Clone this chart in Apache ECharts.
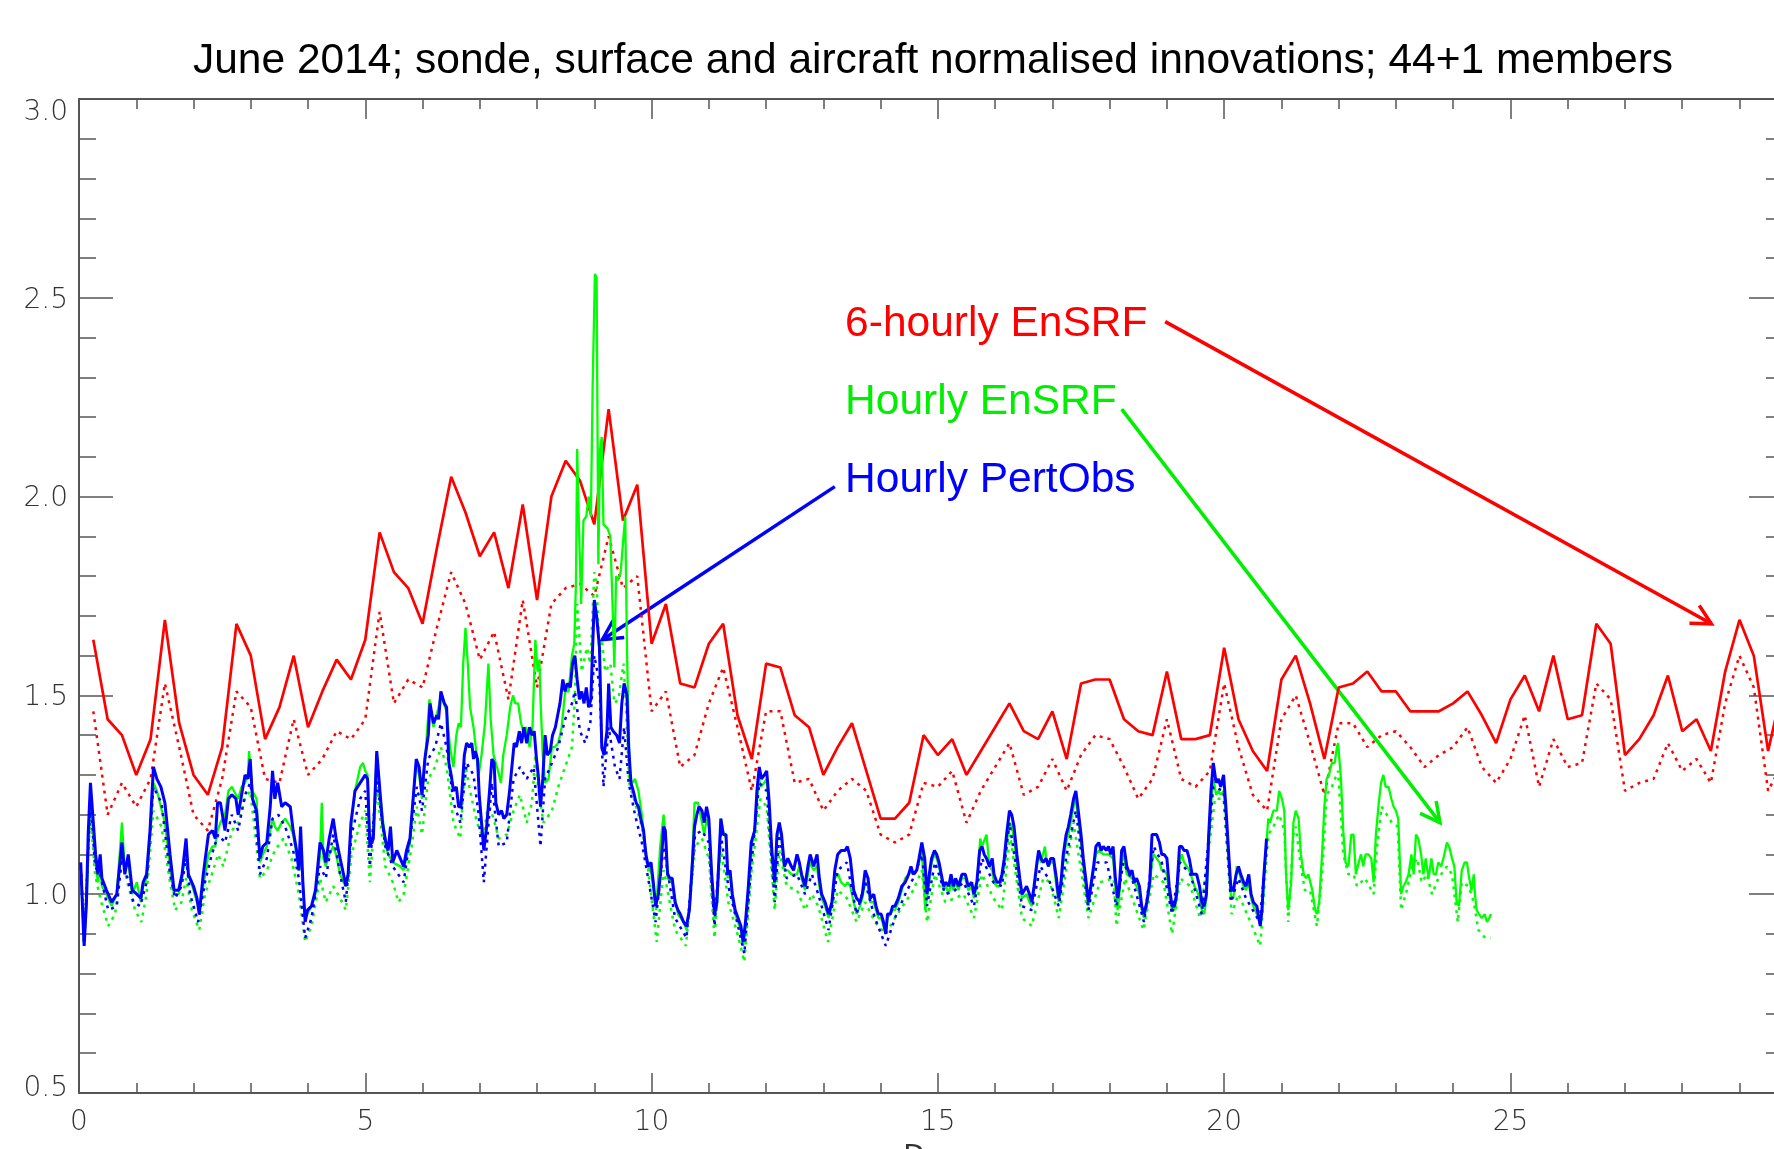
<!DOCTYPE html>
<html>
<head>
<meta charset="utf-8">
<script src="https://cdn.jsdelivr.net/npm/echarts@6/dist/echarts.min.js"></script>
<style>
html,body{margin:0;padding:0;background:#fff;}
#chart{width:1774px;height:1149px;}
</style>
</head>
<body>
<div id="chart"></div>
<script>
// ---------------- DATA ----------------
const titleText = 'June 2014; sonde, surface and aircraft normalised innovations; 44+1 members';
const xTickStep = 5;            // major x tick step (days)
const yTickStep = 0.5;          // major y tick step

// 6-hourly EnSRF (red), every 0.25 day from day 0.25 to 29.75
const sixHourlyStart = 0.25;
const sixHourlyStep = 0.25;
const redSolid = [1.64,1.44,1.40,1.30,1.39,1.69,1.43,1.30,1.25,1.37,1.68,1.60,1.39,1.47,1.60,1.42,1.51,1.59,1.54,1.64,
  1.91,1.81,1.77,1.68,1.87,2.05,1.96,1.85,1.91,1.77,1.98,1.74,2.00,2.09,2.04,1.93,2.22,1.94,2.03,1.63,
  1.73,1.53,1.52,1.63,1.68,1.45,1.34,1.58,1.57,1.45,1.42,1.30,1.37,1.43,1.31,1.19,1.19,1.23,1.40,1.35,
  1.39,1.30,1.36,1.42,1.48,1.41,1.39,1.46,1.34,1.53,1.54,1.54,1.44,1.41,1.40,1.56,1.39,1.39,1.40,1.62,
  1.44,1.36,1.31,1.54,1.60,1.48,1.34,1.52,1.53,1.56,1.51,1.51,1.46,1.46,1.46,1.48,1.51,1.45,1.38,1.49,
  1.55,1.46,1.60,1.44,1.45,1.68,1.63,1.35,1.39,1.45,1.55,1.41,1.44,1.36,1.56,1.69,1.60,1.36,1.52];
const redDotted = [1.46,1.20,1.28,1.22,1.29,1.53,1.37,1.20,1.16,1.29,1.51,1.47,1.29,1.28,1.44,1.30,1.34,1.41,1.39,1.44,
  1.71,1.48,1.54,1.52,1.67,1.81,1.73,1.59,1.66,1.49,1.74,1.52,1.73,1.77,1.78,1.75,1.90,1.77,1.80,1.46,
  1.51,1.32,1.35,1.48,1.57,1.42,1.26,1.46,1.46,1.28,1.29,1.21,1.26,1.29,1.26,1.15,1.13,1.15,1.28,1.27,
  1.31,1.18,1.26,1.32,1.38,1.25,1.27,1.34,1.26,1.35,1.40,1.39,1.32,1.24,1.29,1.44,1.29,1.27,1.31,1.53,
  1.37,1.25,1.21,1.44,1.50,1.38,1.25,1.43,1.43,1.37,1.40,1.41,1.37,1.32,1.35,1.37,1.42,1.32,1.28,1.34,
  1.45,1.27,1.39,1.32,1.33,1.53,1.49,1.26,1.28,1.29,1.38,1.31,1.34,1.28,1.48,1.60,1.52,1.26,1.33];

// Hourly PertObs (blue) [day, value]
const blueSolid = [[0.03,1.08],[0.08,0.90],[0.09,0.87],[0.13,0.98],[0.16,1.15],[0.20,1.28],[0.25,1.18],[0.29,1.10],[0.33,1.05],[0.37,1.10],[0.40,1.04],[0.48,1.01],[0.57,0.98],[0.66,1.00],[0.75,1.13],[0.80,1.05],[0.86,1.10],[0.93,1.01],[1.01,1.00],[1.08,0.99],[1.12,1.03],[1.18,1.05],[1.24,1.16],[1.30,1.32],[1.36,1.29],[1.43,1.27],[1.50,1.23],[1.59,1.10],[1.66,1.01],[1.74,1.01],[1.80,1.05],[1.87,1.14],[1.91,1.05],[2.00,1.02],[2.06,0.99],[2.10,0.95],[2.17,1.05],[2.26,1.15],[2.33,1.16],[2.38,1.14],[2.42,1.23],[2.47,1.23],[2.55,1.16],[2.61,1.24],[2.67,1.25],[2.74,1.24],[2.78,1.20],[2.84,1.25],[2.90,1.30],[2.95,1.29],[2.99,1.34],[3.03,1.24],[3.10,1.21],[3.16,1.09],[3.21,1.12],[3.28,1.13],[3.34,1.22],[3.38,1.31],[3.42,1.24],[3.47,1.28],[3.54,1.22],[3.60,1.23],[3.69,1.22],[3.74,1.16],[3.80,1.11],[3.84,1.06],[3.87,1.17],[3.91,1.03],[3.95,0.93],[3.99,0.96],[4.06,0.97],[4.13,1.01],[4.21,1.13],[4.27,1.11],[4.31,1.08],[4.37,1.14],[4.44,1.19],[4.49,1.14],[4.56,1.09],[4.62,1.05],[4.66,1.02],[4.70,1.05],[4.75,1.18],[4.82,1.26],[4.91,1.28],[5.00,1.30],[5.04,1.29],[5.08,1.12],[5.14,1.14],
  [5.20,1.36],[5.25,1.27],[5.30,1.18],[5.36,1.13],[5.40,1.11],[5.44,1.17],[5.48,1.08],[5.55,1.11],[5.61,1.09],[5.67,1.07],[5.72,1.11],[5.78,1.14],[5.83,1.23],[5.89,1.34],[5.94,1.32],[5.99,1.25],[6.04,1.34],[6.10,1.40],[6.13,1.48],[6.19,1.43],[6.25,1.45],[6.28,1.44],[6.32,1.51],[6.38,1.48],[6.42,1.47],[6.46,1.33],[6.50,1.30],[6.54,1.26],[6.59,1.27],[6.63,1.22],[6.67,1.22],[6.73,1.35],[6.77,1.38],[6.82,1.37],[6.86,1.38],[6.89,1.34],[6.92,1.36],[6.96,1.34],[6.99,1.25],[7.03,1.18],[7.07,1.11],[7.12,1.17],[7.17,1.26],[7.21,1.34],[7.25,1.33],[7.28,1.23],[7.33,1.20],[7.38,1.21],[7.42,1.19],[7.47,1.20],[7.52,1.26],[7.56,1.32],[7.60,1.38],[7.64,1.37],[7.69,1.41],[7.73,1.38],[7.77,1.42],[7.82,1.38],[7.87,1.42],[7.91,1.40],[7.95,1.41],[7.99,1.34],[8.02,1.30],[8.06,1.22],[8.10,1.29],[8.14,1.40],[8.18,1.35],[8.23,1.36],[8.27,1.40],[8.32,1.42],[8.36,1.45],[8.40,1.48],[8.45,1.54],[8.49,1.51],[8.53,1.53],[8.58,1.52],[8.62,1.58],[8.66,1.60],[8.70,1.54],[8.74,1.49],[8.78,1.51],[8.82,1.48],[8.86,1.52],[8.90,1.47],[8.94,1.49],[8.97,1.62],[9.00,1.74],[9.04,1.70],[9.09,1.62],[9.13,1.37],[9.17,1.35],[9.22,1.41],[9.25,1.53],[9.29,1.42],[9.33,1.41],[9.39,1.40],[9.44,1.38],[9.48,1.48],[9.52,1.53],[9.57,1.50],[9.60,1.37],[9.64,1.28],[9.68,1.26],[9.73,1.23],[9.77,1.22],[9.81,1.19],[9.86,1.16],[9.90,1.10],[9.94,1.07],[9.99,1.08],[10.03,1.03],[10.07,0.97],[10.12,1.00],[10.16,1.06],[10.21,1.17],[10.24,1.16],
  [10.28,1.05],[10.32,1.04],[10.36,1.04],[10.41,0.98],[10.46,0.96],[10.50,0.95],[10.56,0.93],[10.61,0.92],[10.66,0.96],[10.70,1.05],[10.75,1.17],[10.79,1.20],[10.83,1.22],[10.88,1.21],[10.92,1.18],[10.96,1.22],[11.00,1.19],[11.05,1.05],[11.10,0.95],[11.14,0.98],[11.18,1.10],[11.21,1.19],[11.25,1.15],[11.30,1.15],[11.33,1.05],[11.37,1.06],[11.41,1.00],[11.46,0.96],[11.51,0.94],[11.56,0.92],[11.60,0.88],[11.64,0.93],[11.69,1.02],[11.74,1.13],[11.80,1.16],[11.84,1.26],[11.88,1.32],[11.92,1.29],[11.97,1.30],[12.01,1.31],[12.05,1.24],[12.10,1.11],[12.15,1.03],[12.19,1.15],[12.23,1.18],[12.27,1.15],[12.32,1.07],[12.38,1.09],[12.44,1.07],[12.48,1.06],[12.54,1.10],[12.58,1.08],[12.62,1.05],[12.68,1.02],[12.73,1.07],[12.77,1.10],[12.83,1.07],[12.89,1.10],[12.93,1.04],[12.97,1.00],[13.03,0.98],[13.09,0.95],[13.15,0.98],[13.20,1.06],[13.25,1.10],[13.31,1.11],[13.38,1.11],[13.42,1.12],[13.47,1.09],[13.53,1.01],[13.58,0.99],[13.64,0.98],[13.68,1.00],[13.73,1.06],[13.78,1.04],[13.82,0.99],[13.88,1.00],[13.92,0.97],[13.96,0.95],[14.01,0.95],[14.05,0.93],[14.09,0.90],[14.12,0.95],[14.17,0.95],[14.21,0.97],[14.25,0.97],[14.31,0.99],[14.37,1.02],[14.43,1.03],[14.49,1.05],[14.53,1.07],[14.57,1.05],[14.63,1.06],[14.67,1.09],[14.72,1.13],[14.77,1.09],[14.81,1.00],[14.85,1.05],[14.89,1.09],[14.94,1.11],[14.98,1.10],[15.02,1.08],[15.06,1.05],[15.10,1.02],[15.14,1.03],[15.19,1.02],[15.23,1.05],[15.27,1.02],[15.31,1.04],[15.36,1.02],[15.42,1.05],[15.48,1.05],
  [15.53,1.02],[15.59,1.03],[15.63,1.00],[15.68,1.03],[15.73,1.11],[15.77,1.12],[15.81,1.10],[15.85,1.09],[15.90,1.07],[15.95,1.09],[15.98,1.05],[16.03,1.03],[16.08,1.03],[16.12,1.05],[16.16,1.09],[16.20,1.15],[16.25,1.21],[16.29,1.20],[16.33,1.17],[16.38,1.10],[16.43,1.04],[16.47,1.00],[16.51,1.01],[16.55,1.02],[16.60,1.00],[16.64,0.98],[16.68,1.02],[16.73,1.08],[16.76,1.11],[16.80,1.09],[16.84,1.08],[16.89,1.09],[16.93,1.07],[16.97,1.09],[17.02,1.09],[17.07,1.04],[17.11,0.99],[17.15,1.03],[17.19,1.10],[17.24,1.15],[17.28,1.17],[17.32,1.20],[17.37,1.24],[17.41,1.26],[17.46,1.20],[17.50,1.15],[17.54,1.09],[17.59,1.03],[17.63,0.98],[17.67,1.02],[17.72,1.07],[17.76,1.12],[17.81,1.13],[17.85,1.11],[17.89,1.12],[17.94,1.11],[17.98,1.12],[18.02,1.10],[18.06,1.12],[18.10,1.04],[18.14,0.99],[18.17,1.02],[18.21,1.11],[18.25,1.12],[18.30,1.07],[18.35,1.05],[18.39,1.06],[18.43,1.03],[18.47,1.04],[18.52,1.02],[18.56,0.97],[18.60,0.95],[18.65,0.98],[18.70,1.03],[18.74,1.15],[18.78,1.15],[18.82,1.15],[18.87,1.13],[18.91,1.10],[18.95,1.10],[19.00,1.09],[19.04,1.02],[19.09,0.97],[19.13,0.97],[19.17,1.00],[19.22,1.12],[19.26,1.12],[19.30,1.11],[19.35,1.11],[19.39,1.09],[19.44,1.05],[19.48,1.05],[19.52,1.05],[19.57,1.02],[19.61,0.98],[19.65,0.97],[19.69,1.00],[19.73,1.15],[19.77,1.26],[19.81,1.33],[19.86,1.28],[19.90,1.29],[19.94,1.27],[19.99,1.30],[20.03,1.22],[20.08,1.10],[20.12,1.01],[20.16,1.01],[20.21,1.05],[20.25,1.07],[20.29,1.05],[20.34,1.03],[20.38,1.02],[20.43,1.05],[20.47,1.00],[20.51,0.98],[20.57,0.97],[20.63,0.92],[20.66,0.96],[20.69,1.04],[20.74,1.14]];

const blueDotted = [[0.04,1.05],[0.09,0.88],[0.20,1.24],[0.28,1.07],[0.37,1.05],[0.51,0.96],[0.66,0.97],[0.75,1.09],[0.83,1.05],[0.95,0.98],[1.07,0.97],[1.18,1.03],[1.30,1.27],[1.44,1.23],[1.59,1.05],[1.68,0.99],[1.79,1.02],[1.87,1.09],[1.94,1.00],[2.08,0.93],[2.20,1.03],[2.32,1.10],[2.43,1.15],[2.55,1.13],[2.67,1.20],[2.78,1.16],[2.90,1.25],[2.99,1.28],[3.07,1.21],[3.16,1.05],[3.28,1.09],[3.38,1.19],[3.48,1.20],[3.60,1.17],[3.74,1.11],[3.84,1.04],[3.95,0.89],[4.06,0.94],[4.21,1.07],[4.31,1.04],[4.44,1.15],[4.56,1.05],[4.66,0.98],[4.76,1.15],[4.91,1.24],[5.00,1.26],[5.08,1.07],[5.20,1.29],[5.35,1.12],[5.48,1.07],[5.67,1.03],[5.81,1.17],[5.90,1.27],[5.99,1.21],[6.10,1.34],[6.22,1.37],[6.32,1.43],[6.42,1.37],[6.54,1.23],[6.66,1.18],[6.77,1.33],[6.89,1.30],[6.98,1.20],[7.07,1.03],[7.21,1.28],[7.33,1.12],[7.47,1.13],[7.59,1.29],[7.70,1.32],[7.82,1.29],[7.94,1.32],[8.06,1.12],[8.14,1.29],[8.26,1.33],[8.37,1.37],[8.49,1.44],[8.61,1.48],[8.66,1.51],[8.75,1.41],[8.84,1.38],[8.93,1.43],[9.00,1.60],[9.09,1.53],[9.16,1.27],[9.25,1.42],[9.36,1.32],[9.44,1.29],[9.52,1.42],[9.60,1.28],[9.71,1.20],[9.83,1.13],[9.94,1.04],[10.07,0.93],[10.21,1.12],[10.41,0.94],[10.61,0.89],[10.76,1.15],[10.88,1.16],[11.00,1.13],[11.10,0.92],[11.21,1.15],[11.34,1.02],[11.51,0.92],[11.62,0.85],[11.74,1.07],[11.88,1.28],[12.01,1.26],[12.15,0.98],[12.23,1.15],[12.36,1.04],[12.54,1.05],[12.68,1.00],[12.80,1.05],[12.91,1.00],[13.09,0.91],[13.25,1.06],[13.41,1.08],[13.58,0.95],[13.73,1.03],[13.90,0.94],[14.09,0.87],[14.25,0.94],[14.43,1.00],[14.57,1.04],[14.72,1.10],[14.81,0.97],[14.95,1.08],[15.13,1.00],[15.30,1.01],[15.45,1.03],[15.63,0.97],[15.77,1.09],[15.97,1.03],[16.12,1.02],[16.25,1.18],[16.47,0.97],[16.64,0.96],[16.79,1.07],[16.93,1.04],[17.11,0.97],[17.25,1.10],[17.41,1.21],[17.63,0.96],[17.78,1.08],[17.95,1.08],[18.12,0.97],[18.24,1.08],[18.41,1.03],[18.60,0.93],[18.77,1.12],[18.91,1.08],[19.09,0.95],[19.23,1.08],[19.41,1.05],[19.61,0.95],[19.81,1.27],[19.99,1.26],[20.12,0.98],[20.25,1.04],[20.38,0.99],[20.62,0.93],[20.74,1.12]];

// Hourly EnSRF (green) [day, value]
const greenSolid = [[0.03,1.06],[0.09,0.88],[0.13,0.97],[0.20,1.26],[0.25,1.15],[0.29,1.08],[0.33,1.03],[0.37,1.07],[0.40,1.02],[0.48,1.00],[0.57,0.97],[0.66,1.00],[0.75,1.18],[0.80,1.06],[0.86,1.08],[0.93,1.00],[1.01,1.03],[1.08,0.98],[1.12,1.02],[1.18,1.04],[1.24,1.14],[1.30,1.28],[1.36,1.26],[1.43,1.22],[1.50,1.18],[1.59,1.07],[1.66,1.00],[1.74,1.00],[1.80,1.04],[1.87,1.12],[1.91,1.05],[2.00,1.01],[2.06,0.98],[2.10,0.96],[2.17,1.02],[2.26,1.10],[2.33,1.12],[2.38,1.12],[2.42,1.16],[2.47,1.18],[2.55,1.20],[2.61,1.26],[2.67,1.27],[2.74,1.25],[2.78,1.24],[2.84,1.27],[2.90,1.28],[2.95,1.30],[2.97,1.36],[3.03,1.26],[3.10,1.24],[3.16,1.08],[3.21,1.10],[3.28,1.12],[3.34,1.16],[3.38,1.19],[3.42,1.17],[3.47,1.16],[3.54,1.18],[3.60,1.19],[3.69,1.17],[3.74,1.15],[3.80,1.10],[3.84,1.06],[3.87,1.12],[3.91,1.02],[3.95,0.94],[3.99,0.95],[4.06,0.97],[4.13,1.00],[4.21,1.10],[4.24,1.23],[4.27,1.09],[4.31,1.07],[4.37,1.10],[4.44,1.12],[4.49,1.10],[4.56,1.05],[4.62,1.03],[4.66,1.02],[4.70,1.04],[4.75,1.17],[4.82,1.26],[4.91,1.32],[4.96,1.33],[5.00,1.31],[5.04,1.30],[5.08,1.12],[5.14,1.16],
  [5.20,1.35],[5.25,1.26],[5.36,1.12],[5.40,1.10],[5.48,1.08],[5.61,1.07],[5.67,1.06],[5.78,1.13],[5.83,1.23],[5.89,1.33],[5.94,1.30],[5.99,1.24],[6.04,1.33],[6.12,1.49],[6.19,1.42],[6.28,1.47],[6.32,1.50],[6.42,1.46],[6.48,1.37],[6.54,1.32],[6.59,1.40],[6.63,1.43],[6.67,1.42],[6.71,1.58],[6.75,1.67],[6.79,1.58],[6.83,1.47],[6.89,1.42],[6.93,1.37],[6.98,1.30],[7.03,1.35],[7.09,1.43],[7.15,1.58],[7.19,1.44],[7.24,1.35],[7.30,1.32],[7.37,1.28],[7.41,1.35],[7.47,1.40],[7.53,1.47],[7.58,1.50],[7.62,1.48],[7.67,1.48],[7.72,1.43],[7.76,1.41],[7.81,1.42],[7.87,1.37],[7.92,1.42],[7.97,1.64],[8.01,1.56],[8.04,1.59],[8.06,1.49],[8.10,1.35],[8.14,1.28],[8.20,1.29],[8.26,1.37],[8.31,1.37],[8.37,1.38],[8.43,1.42],[8.49,1.51],[8.55,1.51],[8.61,1.60],[8.65,1.63],[8.68,1.79],[8.70,2.12],[8.73,1.93],[8.77,1.73],[8.81,1.94],[8.86,1.95],[8.90,2.00],[8.94,1.95],[8.97,2.27],[9.01,2.56],[9.04,2.55],[9.07,1.83],[9.10,2.12],[9.13,2.15],[9.16,1.93],[9.19,1.93],[9.23,1.92],[9.28,1.90],[9.32,1.72],[9.35,1.57],[9.38,1.80],[9.42,1.79],[9.46,1.81],[9.51,1.90],[9.54,1.95],[9.57,1.62],[9.60,1.41],[9.62,1.29],[9.67,1.28],[9.71,1.29],[9.77,1.26],[9.83,1.20],[9.89,1.12],[9.94,1.07],[10.00,1.05],[10.08,0.96],[10.15,1.12],[10.21,1.20],[10.25,1.14],
  [10.28,1.04],[10.36,1.03],[10.46,0.95],[10.56,0.93],[10.61,0.91],[10.66,0.96],[10.70,1.05],[10.75,1.23],[10.81,1.23],[10.88,1.18],[10.92,1.15],[10.96,1.19],[11.00,1.17],[11.05,1.04],[11.10,0.94],[11.14,0.97],[11.18,1.08],[11.21,1.19],[11.25,1.16],[11.30,1.14],[11.33,1.04],[11.37,1.06],[11.41,0.99],[11.46,0.95],[11.51,0.93],[11.56,0.91],[11.60,0.87],[11.64,0.92],[11.69,1.01],[11.74,1.12],[11.80,1.16],[11.84,1.23],[11.87,1.30],[11.90,1.27],[11.97,1.28],[12.01,1.29],[12.05,1.22],[12.10,1.10],[12.15,1.02],[12.19,1.14],[12.23,1.17],[12.27,1.14],[12.32,1.06],[12.38,1.06],[12.44,1.05],[12.48,1.05],[12.54,1.05],[12.58,1.07],[12.62,1.04],[12.68,1.01],[12.73,1.05],[12.77,1.08],[12.83,1.06],[12.89,1.07],[12.93,1.02],[12.97,0.99],[13.03,0.97],[13.09,0.94],[13.15,0.97],[13.20,1.04],[13.26,1.05],[13.31,1.03],[13.38,1.02],[13.42,1.03],[13.47,1.02],[13.53,0.98],[13.58,0.95],[13.64,0.97],[13.68,0.99],[13.73,1.03],[13.78,1.02],[13.82,0.98],[13.88,0.98],[13.92,0.96],[13.96,0.94],[14.01,0.94],[14.05,0.92],[14.09,0.90],[14.12,0.94],[14.17,0.95],[14.21,0.96],[14.25,0.96],[14.31,0.98],[14.37,1.01],[14.43,1.04],[14.49,1.05],[14.53,1.06],[14.57,1.05],[14.63,1.06],[14.67,1.08],[14.72,1.11],[14.78,0.96],[14.85,1.03],[14.89,1.08],[14.94,1.10],[14.98,1.09],[15.02,1.07],[15.06,1.04],[15.10,1.01],[15.14,1.02],[15.19,1.00],[15.23,1.03],[15.27,1.01],[15.31,1.03],[15.36,1.01],[15.42,1.04],[15.48,1.04],
  [15.53,1.01],[15.59,1.02],[15.63,0.99],[15.68,1.02],[15.74,1.14],[15.77,1.12],[15.85,1.15],[15.90,1.07],[15.95,1.06],[15.98,1.03],[16.03,1.02],[16.08,1.02],[16.12,1.04],[16.16,1.08],[16.20,1.13],[16.26,1.18],[16.29,1.17],[16.33,1.14],[16.38,1.08],[16.43,1.03],[16.47,0.99],[16.55,1.00],[16.60,0.98],[16.64,0.97],[16.68,1.01],[16.73,1.07],[16.76,1.10],[16.80,1.08],[16.87,1.12],[16.89,1.09],[16.93,1.07],[16.97,1.08],[17.02,1.08],[17.07,1.02],[17.11,0.98],[17.15,1.02],[17.19,1.08],[17.24,1.13],[17.28,1.15],[17.32,1.18],[17.37,1.22],[17.41,1.24],[17.46,1.18],[17.50,1.13],[17.54,1.07],[17.59,1.01],[17.63,0.97],[17.67,1.01],[17.72,1.06],[17.76,1.10],[17.81,1.11],[17.89,1.10],[17.98,1.10],[18.06,1.09],[18.10,1.02],[18.14,0.96],[18.17,1.00],[18.21,1.08],[18.25,1.10],[18.30,1.05],[18.39,1.04],[18.47,1.02],[18.52,1.00],[18.56,0.96],[18.60,0.94],[18.65,0.97],[18.70,1.02],[18.74,1.08],[18.77,1.10],[18.82,1.09],[18.87,1.08],[18.91,1.06],[18.95,1.06],[19.00,1.05],[19.04,1.00],[19.09,0.96],[19.13,0.96],[19.17,0.99],[19.22,1.08],[19.26,1.10],[19.30,1.08],[19.35,1.07],[19.39,1.06],[19.44,1.04],[19.48,1.02],[19.52,1.01],[19.57,0.99],[19.61,0.96],[19.65,0.95],[19.69,0.99],[19.73,1.12],[19.77,1.22],[19.81,1.29],[19.86,1.25],[19.90,1.26],[19.94,1.25],[19.99,1.26],[20.03,1.20],[20.08,1.08],[20.12,0.99],[20.16,0.99],[20.22,1.07],[20.25,1.06],[20.29,1.04],[20.34,1.02],[20.38,1.01],[20.43,1.03],[20.47,0.99],[20.51,0.97],[20.57,0.95],[20.62,0.93],[20.66,0.95],[20.70,1.05],[20.74,1.13],
  [20.77,1.19],[20.80,1.18],[20.86,1.21],[20.92,1.21],[20.96,1.26],[21.01,1.24],[21.05,1.21],[21.08,1.05],[21.12,0.96],[21.17,1.03],[21.21,1.18],[21.25,1.21],[21.30,1.19],[21.34,1.10],[21.39,1.05],[21.43,1.04],[21.47,1.05],[21.50,1.05],[21.54,1.01],[21.59,0.96],[21.62,0.95],[21.66,0.98],[21.71,1.10],[21.75,1.22],[21.79,1.29],[21.83,1.30],[21.88,1.33],[21.93,1.33],[21.97,1.37],[21.99,1.38],[22.04,1.29],[22.08,1.16],[22.12,1.08],[22.17,1.07],[22.22,1.15],[22.26,1.15],[22.30,1.05],[22.35,1.08],[22.39,1.10],[22.43,1.07],[22.47,1.10],[22.52,1.10],[22.57,1.09],[22.61,1.03],[22.65,1.15],[22.70,1.23],[22.74,1.28],[22.78,1.30],[22.82,1.27],[22.87,1.27],[22.92,1.24],[22.96,1.22],[23.00,1.21],[23.04,1.19],[23.09,1.00],[23.13,1.02],[23.17,1.03],[23.22,1.05],[23.27,1.10],[23.31,1.05],[23.35,1.15],[23.39,1.14],[23.44,1.10],[23.48,1.05],[23.52,1.09],[23.57,1.04],[23.62,1.09],[23.66,1.05],[23.70,1.05],[23.74,1.08],[23.79,1.07],[23.83,1.09],[23.89,1.13],[23.93,1.12],[23.98,1.09],[24.02,1.07],[24.06,0.98],[24.10,0.97],[24.15,1.06],[24.20,1.08],[24.24,1.08],[24.28,1.04],[24.32,1.01],[24.36,1.05],[24.38,1.00],[24.41,0.96],[24.45,0.95],[24.50,0.94],[24.55,0.95],[24.59,0.93],[24.63,0.94],[24.66,0.95]];

const greenDotted = [[0.08,0.88],[0.20,1.20],[0.28,1.05],[0.37,0.99],[0.51,0.92],[0.63,0.95],[0.75,1.09],[0.86,1.02],[0.98,0.96],[1.09,0.93],[1.18,1.00],[1.30,1.21],[1.44,1.17],[1.59,1.03],[1.68,0.96],[1.79,0.98],[1.87,1.04],[1.97,0.96],[2.10,0.91],[2.20,1.00],[2.32,1.05],[2.43,1.10],[2.52,1.07],[2.67,1.16],[2.78,1.18],[2.90,1.24],[2.99,1.26],[3.07,1.16],[3.16,1.04],[3.28,1.06],[3.42,1.11],[3.57,1.14],[3.71,1.09],[3.84,1.00],[3.95,0.88],[4.06,0.92],[4.21,1.04],[4.31,0.98],[4.44,1.02],[4.56,0.99],[4.66,0.96],[4.76,1.10],[4.91,1.18],[5.00,1.21],[5.08,1.03],[5.20,1.27],[5.35,1.07],[5.48,1.03],[5.58,0.98],[5.67,1.00],[5.81,1.12],[5.90,1.22],[5.99,1.15],[6.10,1.29],[6.22,1.32],[6.32,1.37],[6.42,1.32],[6.54,1.18],[6.66,1.14],[6.74,1.33],[6.83,1.26],[6.95,1.18],[7.06,1.14],[7.15,1.23],[7.24,1.19],[7.33,1.14],[7.47,1.15],[7.59,1.21],[7.70,1.25],[7.82,1.18],[7.91,1.23],[7.97,1.35],[8.02,1.27],[8.11,1.18],[8.26,1.21],[8.37,1.27],[8.49,1.32],[8.61,1.37],[8.66,1.49],[8.70,1.73],[8.78,1.56],[8.87,1.62],[8.93,1.58],[9.00,1.81],[9.04,1.78],[9.09,1.60],[9.13,1.64],[9.19,1.56],[9.28,1.58],[9.35,1.48],[9.42,1.49],[9.51,1.58],[9.55,1.48],[9.61,1.28],[9.71,1.23],[9.83,1.17],[9.94,1.06],[10.09,0.88],[10.21,1.06],[10.41,0.91],[10.60,0.87],[10.76,1.12],[10.88,1.14],[11.00,1.09],[11.10,0.89],[11.21,1.12],[11.34,0.98],[11.52,0.89],[11.62,0.83],[11.74,1.05],[11.90,1.24],[12.01,1.22],[12.15,0.96],[12.23,1.11],[12.36,1.02],[12.54,1.01],[12.68,0.96],[12.80,1.00],[12.91,0.97],[13.08,0.88],[13.25,1.01],[13.41,0.99],[13.58,0.93],[13.73,0.98],[13.90,0.93],[14.09,0.90],[14.25,0.94],[14.43,0.98],[14.57,1.01],[14.72,1.06],[14.81,0.93],[14.95,1.05],[15.13,0.98],[15.30,0.99],[15.45,1.00],[15.63,0.94],[15.77,1.05],[15.97,0.99],[16.12,0.96],[16.26,1.15],[16.47,0.94],[16.64,0.92],[16.84,1.04],[16.96,1.03],[17.11,0.94],[17.37,1.18],[17.63,0.94],[17.83,1.03],[18.07,1.04],[18.12,0.92],[18.27,1.04],[18.59,0.91],[18.77,1.05],[18.94,1.03],[19.09,0.90],[19.23,1.04],[19.41,1.02],[19.58,0.94],[19.84,1.24],[19.99,1.24],[20.13,0.95],[20.25,1.00],[20.46,0.93],[20.63,0.87],[20.77,1.15],[20.86,1.17],[20.96,1.20],[21.05,1.16],[21.12,0.93],[21.21,1.15],[21.25,1.17],[21.34,1.07],[21.41,1.01],[21.50,1.01],[21.62,0.92],[21.71,1.05],[21.79,1.25],[21.88,1.27],[21.99,1.31],[22.08,1.10],[22.17,1.05],[22.26,1.05],[22.32,1.02],[22.46,1.04],[22.61,1.00],[22.67,1.12],[22.75,1.22],[22.84,1.20],[22.93,1.18],[23.03,1.17],[23.09,0.96],[23.19,1.01],[23.28,1.07],[23.37,1.09],[23.45,1.03],[23.54,1.05],[23.63,1.00],[23.74,1.04],[23.89,1.07],[23.98,1.05],[24.08,0.93],[24.15,1.03],[24.27,1.02],[24.36,0.98],[24.44,0.91],[24.56,0.89],[24.65,0.89]];

// Annotations (data coordinates)
const labels = [
  {text: '6-hourly EnSRF', color: '#ff0000', at: [13.38, 2.433]},
  {text: 'Hourly EnSRF',   color: '#00ee00', at: [13.38, 2.237]},
  {text: 'Hourly PertObs', color: '#0000ff', at: [13.38, 2.041]}
];
const arrows = [
  {color: '#ff0000', from: [18.97, 2.44], to: [28.51, 1.68]},
  {color: '#00ee00', from: [18.21, 2.22], to: [23.77, 1.18]},
  {color: '#0000ff', from: [13.20, 2.025], to: [9.14, 1.64]}
];

// ---------------- CHART ----------------
const sixHourly = (vals) => vals.map((v, i) => [sixHourlyStart + i * sixHourlyStep, v]);

const chart = echarts.init(document.getElementById('chart'), null, {renderer: 'canvas'});
const axisColor = '#555';
const tickFont = {fontFamily: 'DejaVu Sans', fontSize: 28, color: '#333', fontWeight: 200};
const X_MIN = 0, X_MAX = 29.76, Y_MIN = 0.5, Y_MAX = 3.0;

function xAx(pos, interval, len, showLine, showLabel, extra) {
  return Object.assign({
    type: 'value', position: pos, min: X_MIN, max: X_MAX, interval: interval,
    axisLine: {show: showLine, onZero: false, lineStyle: {color: axisColor, width: 2}},
    axisTick: {show: true, inside: true, length: len, lineStyle: {color: axisColor, width: 1.5}},
    axisLabel: {show: showLabel, margin: 16, ...tickFont,
      formatter: (v) => (Math.abs(v / xTickStep - Math.round(v / xTickStep)) < 1e-6 ? String(Math.round(v)) : '')},
    splitLine: {show: false}
  }, extra || {});
}
const richBase = {fontFamily: 'DejaVu Sans', fontSize: 28, color: '#333', fontWeight: 200};
function yAx(pos, showLabel) {
  return {
    type: 'value', position: pos, min: Y_MIN, max: Y_MAX, interval: yTickStep,
    axisLine: {show: true, onZero: false, lineStyle: {color: axisColor, width: 2}},
    axisTick: {show: true, inside: true, length: 34, lineStyle: {color: axisColor, width: 1.5}},
    minorTick: {show: true, splitNumber: 5, length: 17, lineStyle: {color: axisColor, width: 1.5}},
    axisLabel: {show: showLabel, margin: 11, ...tickFont,
      formatter: (v) => {
        const s = v.toFixed(1);
        if (Math.abs(v - Y_MAX) < 1e-9) return '{t|' + s + '}';
        if (Math.abs(v - Y_MIN) < 1e-9) return '{b|' + s + '}';
        return '{n|' + s + '}';
      },
      rich: {
        t: Object.assign({padding: [28, 0, 0, 0]}, richBase),
        b: Object.assign({padding: [0, 0, 9, 0]}, richBase),
        n: Object.assign({padding: [5, 0, 0, 0]}, richBase)
      }},
    splitLine: {show: false}
  };
}

const option = {
  backgroundColor: '#ffffff',
  animation: false,
  grid: {left: 79, top: 99, width: 1704, height: 994, containLabel: false, outerBoundsMode: 'none'},
  xAxis: [
    xAx('bottom', xTickStep, 20, true, true, {name: 'Day', nameLocation: 'middle', nameGap: 51,
      nameTextStyle: {fontFamily: 'DejaVu Sans', fontSize: 28, color: '#333'}}),
    xAx('bottom', 1, 10, false, false),
    xAx('top', xTickStep, 20, true, false),
    xAx('top', 1, 10, false, false)
  ],
  yAxis: [yAx('left', true), yAx('right', false)],
  series: [
    {name: '6-hourly EnSRF dotted', type: 'line', data: sixHourly(redDotted), showSymbol: false,
      lineStyle: {color: '#ff0000', width: 2.5, type: [3, 5]}},
    {name: '6-hourly EnSRF', type: 'line', data: sixHourly(redSolid), showSymbol: false,
      lineStyle: {color: '#ff0000', width: 2.7}},
    {name: 'Hourly EnSRF dotted', type: 'line', data: greenDotted, showSymbol: false,
      lineStyle: {color: '#00ff00', width: 2.5, type: [3, 5]}},
    {name: 'Hourly EnSRF', type: 'line', data: greenSolid, showSymbol: false,
      lineStyle: {color: '#00ff00', width: 2.3}},
    {name: 'Hourly PertObs dotted', type: 'line', data: blueDotted, showSymbol: false,
      lineStyle: {color: '#0000ff', width: 2.5, type: [3, 5]}},
    {name: 'Hourly PertObs', type: 'line', data: blueSolid, showSymbol: false,
      lineStyle: {color: '#0000ff', width: 3}}
  ]
};
chart.setOption(option);

// annotations in pixel space from data coordinates
const toPx = (p) => chart.convertToPixel({xAxisIndex: 0, yAxisIndex: 0}, p);
const graphics = [];
graphics.push({
  type: 'text', x: 933, y: 61, silent: true,
  style: {text: titleText, fill: '#000', font: '42.5px "Liberation Sans", Arial, sans-serif',
    align: 'center', verticalAlign: 'middle', textAlign: 'center', textVerticalAlign: 'middle'}
});
labels.forEach((l) => {
  const p = toPx(l.at);
  graphics.push({type: 'text', x: p[0], y: p[1], silent: true,
    style: {text: l.text, fill: l.color, font: '42.5px "Liberation Sans", Arial, sans-serif',
      align: 'left', verticalAlign: 'middle', textAlign: 'left', textVerticalAlign: 'middle'}});
});
arrows.forEach((a) => {
  const p0 = toPx(a.from), p1 = toPx(a.to);
  const ang = Math.atan2(p0[1] - p1[1], p0[0] - p1[0]);
  const L = 22, da = 0.48;
  const b1 = [p1[0] + L * Math.cos(ang - da), p1[1] + L * Math.sin(ang - da)];
  const b2 = [p1[0] + L * Math.cos(ang + da), p1[1] + L * Math.sin(ang + da)];
  graphics.push({type: 'polyline', silent: true, shape: {points: [p0, p1]},
    style: {stroke: a.color, lineWidth: 3.5, fill: null}});
  graphics.push({type: 'polyline', silent: true, shape: {points: [b1, p1, b2]},
    style: {stroke: a.color, lineWidth: 3.5, fill: null}});
});
chart.setOption({graphic: graphics});
</script>
</body>
</html>
